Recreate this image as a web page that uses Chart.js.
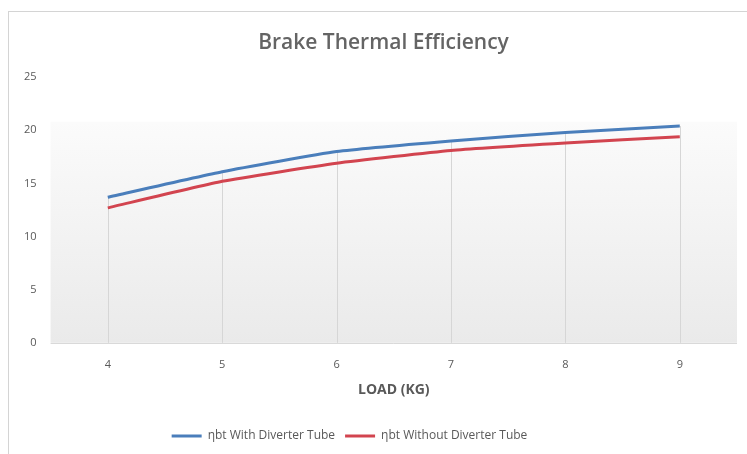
<!DOCTYPE html>
<html>
<head>
<meta charset="utf-8">
<script src="https://cdn.jsdelivr.net/npm/chart.js@4/dist/chart.umd.min.js"></script>
<style>
  html, body { margin: 0; padding: 0; background: #fff; }
  #wrap { position: absolute; left: 0; top: 0; width: 747px; height: 454px; overflow: hidden; }
  #frame { position: absolute; left: 8px; top: 11px; width: 760px; height: 460px; border: 1px solid #d4d4d4; box-sizing: border-box; }
  canvas { position: absolute; left: 0; top: 0; }
</style>
</head>
<body>
<div id="wrap">
  <div id="frame"></div>
  <canvas id="c" width="747" height="454"></canvas>
</div>
<script>
const categories = ["4", "5", "6", "7", "8", "9"];
const withTube = [13.7, 16.1, 18.0, 19.0, 19.8, 20.4];
const withoutTube = [12.7, 15.2, 16.9, 18.1, 18.8, 19.4];
const seriesNames = ["ηbt With Diverter Tube", "ηbt Without Diverter Tube"];
const yTicks = [0, 5, 10, 15, 20, 25];

const FONT = "'Open Sans', 'Liberation Sans', sans-serif";

const bgPlugin = {
  id: 'bg',
  afterLayout(chart) {
    if (chart.titleBlock) { chart.titleBlock.left += 10; chart.titleBlock.right += 10; }
    if (chart.legend) { chart.legend.left -= 24; chart.legend.right -= 24; }
  },
  beforeDatasetsDraw(chart) {
    const { ctx, chartArea: a, scales } = chart;
    const top = scales.y.getPixelForValue(20.8);
    const g = ctx.createLinearGradient(0, top, 0, a.bottom);
    g.addColorStop(0, 'rgba(251,251,251,1)');
    g.addColorStop(1, 'rgba(234,234,234,1)');
    ctx.save();
    ctx.fillStyle = g;
    ctx.fillRect(a.left, top, a.right - a.left, a.bottom - top);
    ctx.strokeStyle = '#d6d6d6';
    ctx.lineWidth = 1;
    categories.forEach((c, i) => {
      const x = Math.round(scales.x.getPixelForValue(i)) + 0.5;
      const v = Math.max(withTube[i], withoutTube[i]);
      ctx.beginPath();
      ctx.moveTo(x, scales.y.getPixelForValue(v));
      ctx.lineTo(x, a.bottom);
      ctx.stroke();
    });
    ctx.strokeStyle = '#d9d9d9';
    ctx.beginPath();
    ctx.moveTo(a.left, Math.round(a.bottom) + 0.5);
    ctx.lineTo(a.right, Math.round(a.bottom) + 0.5);
    ctx.stroke();
    ctx.restore();
  }
};

new Chart(document.getElementById('c'), {
  type: 'line',
  data: {
    labels: categories,
    datasets: [
      { label: seriesNames[0], data: withTube, borderColor: '#4A7EBB', backgroundColor: '#4A7EBB', borderWidth: 3, pointRadius: 0, tension: 0.15, fill: false },
      { label: seriesNames[1], data: withoutTube, borderColor: '#D2444F', backgroundColor: '#D2444F', borderWidth: 3, pointRadius: 0, tension: 0.15, fill: false }
    ]
  },
  plugins: [bgPlugin],
  options: {
    responsive: false,
    animation: false,
    devicePixelRatio: 1,
    layout: { padding: { left: 10, right: 10, top: 30, bottom: 2 } },
    plugins: {
      title: {
        display: true,
        text: 'Brake Thermal Efficiency',
        color: '#646464',
        font: { family: FONT, size: 21, weight: '600' },
        padding: { top: 0, bottom: 22 }
      },
      legend: {
        display: true,
        position: 'bottom',
        labels: {
          color: '#595959',
          font: { family: FONT, size: 12 },
          usePointStyle: true,
          pointStyle: 'line',
          pointStyleWidth: 30,
          boxHeight: 3,
          padding: 10
        }
      },
      tooltip: { enabled: false }
    },
    scales: {
      x: {
        type: 'category',
        offset: true,
        grid: { display: false, offset: false, drawTicks: false },
        border: { display: false },
        ticks: { color: '#595959', font: { family: FONT, size: 11 }, padding: 15 },
        title: {
          display: true,
          text: 'LOAD (KG)',
          color: '#595959',
          font: { family: FONT, size: 14, weight: 'bold', lineHeight: 1 },
          padding: { top: -3, bottom: 23 }
        }
      },
      y: {
        min: 0,
        max: 25,
        afterBuildTicks(scale) { scale.ticks = yTicks.map(v => ({ value: v })); },
        grid: { display: false, drawTicks: false },
        border: { display: false },
        ticks: { color: '#595959', font: { family: FONT, size: 11 }, padding: 14 }
      }
    }
  }
});
</script>
</body>
</html>
